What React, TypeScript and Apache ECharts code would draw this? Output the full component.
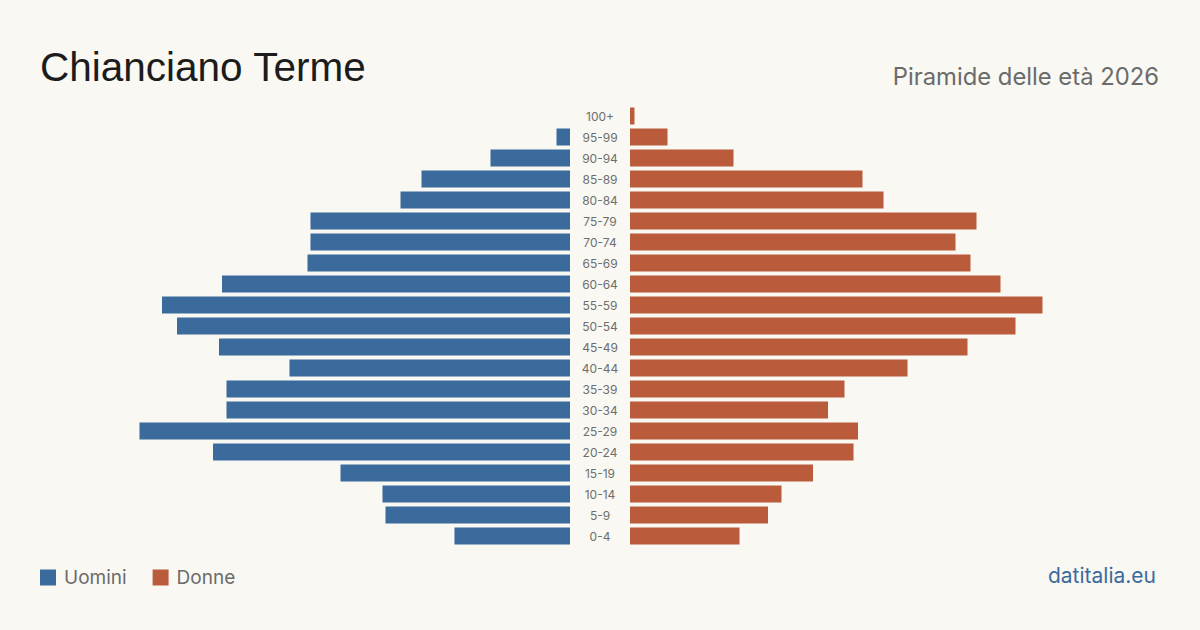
import React, { useEffect, useRef } from "react";
import * as echarts from "echarts";

const ageGroups = ["0-4", "5-9", "10-14", "15-19", "20-24", "25-29", "30-34", "35-39", "40-44", "45-49", "50-54", "55-59", "60-64", "65-69", "70-74", "75-79", "80-84", "85-89", "90-94", "95-99", "100+"];
const men = [77, 123, 125, 153, 238, 287, 229, 229, 187, 234, 262, 272, 232, 175, 173, 173, 113, 99, 53, 9, 0];
const women = [73, 92, 101, 122, 149, 152, 132, 143, 185, 225, 257, 275, 247, 227, 217, 231, 169, 155, 69, 25, 3];

const BLUE = "#3b6b9c";
const ORANGE = "#ba5c3c";
const BG = "#f9f8f3";
const FONT = "Inter, 'Liberation Sans', sans-serif";

export default function App() {
  const ref = useRef<HTMLDivElement>(null);
  useEffect(() => {
    document.body.style.margin = "0";
    const chart = echarts.init(ref.current!, null, { renderer: "svg" });
    const maxV = 300;
    chart.setOption({
      animation: false,
      backgroundColor: BG,
      title: [
        { text: "Chianciano Terme", left: 35, top: 41, textStyle: { fontFamily: "'Liberation Sans', Arial, sans-serif", fontSize: 40.5, fontWeight: "normal", color: "#1c1c1c" } },
        { text: "Piramide delle età 2026", right: 36, top: 59, textStyle: { fontFamily: FONT, fontSize: 23.8, fontWeight: "normal", color: "#6b6b6b" } },
      ],
      legend: {
        left: 35, top: 563, itemWidth: 16, itemHeight: 16, itemGap: 26, icon: "rect",
        textStyle: { fontFamily: FONT, fontSize: 19, color: "#6b6b6b", padding: [0, 0, 0, 3] },
        data: ["Uomini", "Donne"],
      },
      graphic: [
        { type: "text", right: 44, top: 565, style: { text: "datitalia.eu", font: `21px ${FONT}`, fill: BLUE } },
      ],
      grid: [
        { left: 120, right: 630, top: 105.5, bottom: 83.5 },
        { left: 630, right: 120, top: 105.5, bottom: 83.5 },
      ],
      xAxis: [
        { type: "value", gridIndex: 0, inverse: true, min: 0, max: maxV, show: false },
        { type: "value", gridIndex: 1, min: 0, max: maxV, show: false },
      ],
      yAxis: [
        {
          type: "category", gridIndex: 0, data: ageGroups, position: "right",
          axisLine: { show: false }, axisTick: { show: false },
          axisLabel: { align: "center", margin: 30, fontFamily: FONT, fontSize: 12, color: "#6e6e6e" },
        },
        {
          type: "category", gridIndex: 1, data: ageGroups,
          axisLine: { show: false }, axisTick: { show: false }, axisLabel: { show: false },
        },
      ],
      series: [
        { name: "Uomini", type: "bar", xAxisIndex: 0, yAxisIndex: 0, data: men, barWidth: 17, itemStyle: { color: BLUE } },
        { name: "Donne", type: "bar", xAxisIndex: 1, yAxisIndex: 1, data: women, barWidth: 17, itemStyle: { color: ORANGE } },
      ],
    });
    return () => chart.dispose();
  }, []);
  return <div ref={ref} style={{ width: 1200, height: 630 }} />;
}
